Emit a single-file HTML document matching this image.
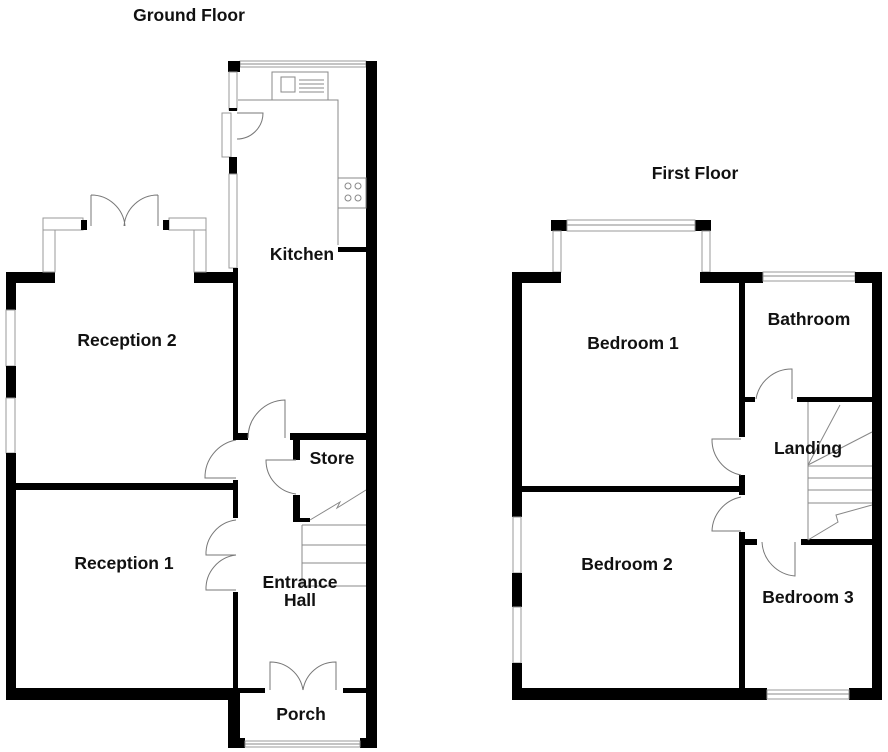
<!DOCTYPE html>
<html><head><meta charset="utf-8"><style>
html,body{margin:0;padding:0;background:#fff;}
svg{display:block}
text{font-family:"Liberation Sans",Arial,sans-serif;font-weight:bold;fill:#111;font-size:17.5px;text-anchor:middle}
.w{fill:#000}
.win{fill:#fff;stroke:#999;stroke-width:1}
.ln{fill:none;stroke:#888;stroke-width:1}
.dr{fill:none;stroke:#777;stroke-width:1}
</style></head><body>
<svg width="888" height="752" viewBox="0 0 888 752" xmlns="http://www.w3.org/2000/svg">
<!-- ================= GROUND FLOOR ================= -->
<text x="189" y="21" font-size="19.5">Ground Floor</text>
<rect class="win" x="240" y="61" width="126" height="6"/>
<line class="ln" x1="240" y1="64" x2="366" y2="64"/>
<rect class="w" x="228" y="61" width="12" height="11"/>
<rect class="w" x="366" y="61" width="11" height="687"/>
<rect class="win" x="229" y="72" width="8" height="38"/>
<rect class="w" x="229" y="108" width="8" height="3"/>
<rect class="win" x="222" y="113" width="9" height="44"/>
<path class="dr" d="M237 113 L263 113 A26 26 0 0 1 237 139"/>
<rect class="w" x="229" y="157" width="8" height="17"/>
<rect class="win" x="229" y="174" width="8" height="94"/>
<rect class="w" x="233" y="268" width="5" height="172"/>
<path class="ln" d="M238 100 L338 100 L338 245"/>
<rect class="ln" x="272" y="72" width="56" height="28"/>
<rect class="ln" x="281" y="77" width="14" height="15"/>
<path class="ln" d="M299 80 H324 M299 84 H324 M299 88 H324 M299 92 H324"/>
<rect class="ln" x="338" y="178" width="28" height="30"/>
<circle class="ln" cx="348" cy="186" r="3"/><circle class="ln" cx="358" cy="186" r="3"/>
<circle class="ln" cx="348" cy="198" r="3"/><circle class="ln" cx="358" cy="198" r="3"/>
<rect class="w" x="338" y="247" width="28" height="5"/>
<rect class="w" x="6" y="272" width="49" height="11"/>
<rect class="w" x="194" y="272" width="44" height="11"/>
<rect class="win" x="43" y="220" width="12" height="52"/>
<rect class="win" x="43" y="218" width="40" height="12"/>
<rect class="w" x="81" y="220" width="6" height="10"/>
<rect class="win" x="194" y="220" width="12" height="52"/>
<rect class="win" x="169" y="218" width="37" height="12"/>
<rect class="w" x="163" y="220" width="6" height="10"/>
<path class="dr" d="M91 226 L91 195 M91 195 A34 34 0 0 1 125 226"/>
<path class="dr" d="M158 226 L158 195 M158 195 A34 34 0 0 0 124 226"/>
<rect class="w" x="6" y="283" width="10" height="27"/>
<rect class="win" x="6" y="310" width="9" height="56"/>
<rect class="w" x="6" y="366" width="10" height="32"/>
<rect class="win" x="6" y="398" width="9" height="55"/>
<rect class="w" x="6" y="453" width="10" height="247"/>
<rect class="w" x="16" y="483" width="222" height="7"/>
<rect class="w" x="6" y="688" width="232" height="12"/>
<rect class="w" x="228" y="688" width="12" height="60"/>
<rect class="w" x="233" y="480" width="5" height="38"/>
<rect class="w" x="233" y="592" width="5" height="98"/>
<path class="dr" d="M236 440 A38 38 0 0 0 205 478 L236 478"/>
<path class="dr" d="M236 520 A34 34 0 0 0 206 555 L236 555 A34 34 0 0 0 206 590 L236 590"/>
<rect class="w" x="233" y="433" width="15" height="7"/>
<rect class="w" x="290" y="433" width="76" height="7"/>
<path class="dr" d="M248 438 A38 38 0 0 1 285 400 L285 438"/>
<rect class="w" x="293" y="440" width="7" height="20"/>
<rect class="w" x="293" y="495" width="7" height="27"/>
<rect class="w" x="293" y="518" width="17" height="4"/>
<path class="dr" d="M296 460 L266 460 A34 34 0 0 0 296 494"/>
<text x="332" y="464">Store</text>
<path class="ln" d="M302 525 L302 586 M302 525 H366 M302 545 H366 M302 563 H366 M302 586 H366 M310 520 L340 502 L337 508 L366 490"/>
<rect class="w" x="238" y="688" width="27" height="5"/>
<rect class="w" x="343" y="688" width="23" height="5"/>
<path class="dr" d="M270 690 L270 662 A33 33 0 0 1 303 690"/>
<path class="dr" d="M336 690 L336 662 A33 33 0 0 0 303 690"/>
<rect class="w" x="228" y="738" width="17" height="10"/>
<rect class="w" x="360" y="738" width="17" height="10"/>
<rect class="win" x="245" y="741" width="115" height="6"/>
<line class="ln" x1="245" y1="744" x2="360" y2="744"/>
<text x="302" y="260">Kitchen</text>
<text x="127" y="346">Reception 2</text>
<text x="124" y="569">Reception 1</text>
<text x="300" y="588">Entrance</text>
<text x="300" y="606">Hall</text>
<text x="301" y="720">Porch</text>

<!-- ================= FIRST FLOOR ================= -->
<text x="695" y="179" font-size="19.5">First Floor</text>
<rect class="w" x="551" y="220" width="16" height="11"/>
<rect class="w" x="695" y="220" width="16" height="11"/>
<rect class="win" x="567" y="220" width="128" height="11"/>
<line class="ln" x1="567" y1="225" x2="695" y2="225"/>
<rect class="win" x="553" y="231" width="8" height="41"/>
<rect class="win" x="702" y="231" width="8" height="41"/>
<rect class="w" x="512" y="272" width="49" height="11"/>
<rect class="w" x="700" y="272" width="63" height="11"/>
<rect class="win" x="763" y="272" width="92" height="9"/>
<line class="ln" x1="763" y1="276" x2="855" y2="276"/>
<rect class="w" x="855" y="272" width="27" height="11"/>
<rect class="w" x="512" y="283" width="10" height="234"/>
<rect class="win" x="513" y="517" width="8" height="56"/>
<rect class="w" x="512" y="573" width="10" height="34"/>
<rect class="win" x="513" y="607" width="8" height="56"/>
<rect class="w" x="512" y="663" width="10" height="37"/>
<rect class="w" x="872" y="283" width="10" height="417"/>
<rect class="w" x="512" y="688" width="255" height="12"/>
<rect class="w" x="849" y="688" width="33" height="12"/>
<rect class="win" x="767" y="690" width="82" height="9"/>
<line class="ln" x1="767" y1="694" x2="849" y2="694"/>
<rect class="w" x="522" y="486" width="221" height="6"/>
<rect class="w" x="739" y="283" width="6" height="154"/>
<rect class="w" x="739" y="475" width="6" height="20"/>
<rect class="w" x="739" y="532" width="6" height="156"/>
<path class="dr" d="M741 439 L712 439 A36 36 0 0 0 741 475"/>
<path class="dr" d="M741 497 A36 36 0 0 0 712 531 L741 531"/>
<rect class="w" x="745" y="397" width="10" height="5"/>
<rect class="w" x="797" y="397" width="80" height="5"/>
<path class="dr" d="M756 399 A36 36 0 0 1 792 369 L792 399"/>
<rect class="w" x="745" y="539" width="12" height="6"/>
<rect class="w" x="801" y="539" width="76" height="6"/>
<path class="dr" d="M762 542 A36 36 0 0 0 795 576 L795 542"/>
<path class="ln" d="M808 402 L808 540 M808 466 H872 M808 478 H872 M808 490 H872 M808 503 H872 M808 540 L838 522 L836 515 L872 505 M808 465 L840 405 M808 465 L872 432"/>
<text x="633" y="349">Bedroom 1</text>
<text x="809" y="325">Bathroom</text>
<text x="808" y="454">Landing</text>
<text x="627" y="570">Bedroom 2</text>
<text x="808" y="603">Bedroom 3</text>
</svg>
</body></html>
